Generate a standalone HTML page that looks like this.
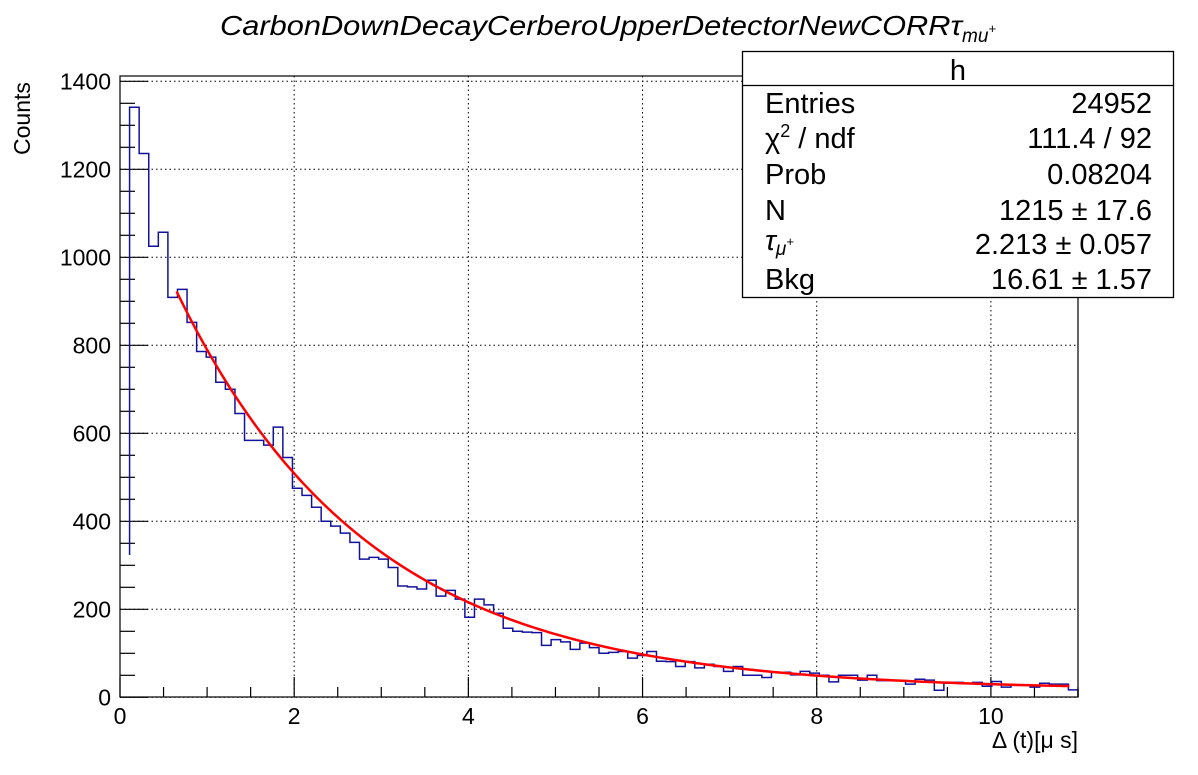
<!DOCTYPE html>
<html><head><meta charset="utf-8"><style>
body{margin:0;background:#fff;}
svg{display:block;font-family:"Liberation Sans",Arial,sans-serif;}
</style></head><body>
<svg id="c" width="1198" height="775" viewBox="0 0 1198 775">
<rect width="1198" height="775" fill="#fff"/>
<text x="220" y="35" font-size="28" font-style="italic"><tspan textLength="742" lengthAdjust="spacingAndGlyphs">CarbonDownDecayCerberoUpperDetectorNewCORRτ</tspan><tspan font-size="19" dy="7">mu</tspan><tspan font-size="13" dy="-9">+</tspan></text>
<g id="grid"></g>
<g id="axes"></g>
<g id="hist"></g>
<g id="fit"></g>
<rect x="120" y="76" width="958" height="621" fill="none" stroke="#000" stroke-width="1.2"/>
<text x="30" y="155" transform="rotate(-90 30 155)" font-size="23">Counts</text>
<text x="1078" y="748" text-anchor="end" font-size="23">Δ (t)[μ s]</text>
<g font-size="29">
<rect x="742.5" y="51.5" width="431" height="246" fill="#fff" stroke="#000" stroke-width="1.3"/>
<line x1="742" y1="85.5" x2="1174" y2="85.5" stroke="#000" stroke-width="1.3"/>
<text x="958" y="80" text-anchor="middle">h</text>
<text x="765" y="113">Entries</text><text x="1152" y="113" text-anchor="end">24952</text>
<text x="765" y="148">χ<tspan font-size="18" dy="-11">2</tspan><tspan dy="11"> / ndf</tspan></text><text x="1152" y="148" text-anchor="end">111.4 / 92</text>
<text x="765" y="184">Prob</text><text x="1152" y="184" text-anchor="end">0.08204</text>
<text x="765" y="220">N</text><text x="1152" y="220" text-anchor="end">1215 ± 17.6</text>
<text x="765" y="250" font-style="italic">τ<tspan font-size="19" dy="5">μ</tspan><tspan font-size="13" dy="-9">+</tspan></text><text x="1152" y="254" text-anchor="end">2.213 ± 0.057</text>
<text x="765" y="289">Bkg</text><text x="1152" y="289" text-anchor="end">16.61 ± 1.57</text>
</g>
</svg>
<script>
const counts=[0,1341,1236,1025,1057,909,927,852,786,773,716,700,645,584,584,573,614,545,475,459,432,400,389,373,352,314,318,314,295,253,251,246,266,230,243,223,182,223,210,191,157,150,148,147,118,131,126,109,123,113,100,102,104,89,95,104,82,81,70,81,67,75,70,59,70,50,50,45,57,57,51,59,55,50,35,50,50,39,50,38,38,38,30,41,39,16,32,34,32,34,25,36,23,27,27,23,32,30,30,17];
const xTicks=[0,2,4,6,8,10];
const yTicks=[0,200,400,600,800,1000,1200,1400];
const fitParams=[1215,2.213,16.61];
const fitRange=[0.65,10.9];
const binWidth=0.11;
const NS="http://www.w3.org/2000/svg";
const X0=120,X1=1078,Y0=697.3,XMAX=11,YMAXPX=0.44;
function sx(v){return X0+(X1-X0)*v/XMAX;}
function sy(v){return Y0-v*YMAXPX;}
function mk(tag,attrs,parent){const e=document.createElementNS(NS,tag);for(const k in attrs)e.setAttribute(k,attrs[k]);parent.appendChild(e);return e;}
const grid=document.getElementById('grid'),axes=document.getElementById('axes');
xTicks.forEach(t=>{
  const g=mk('line',{x1:sx(t),x2:sx(t),y1:76,y2:697,stroke:'#000','stroke-width':1,'stroke-dasharray':'1.5 3'},grid);
  
  
  const l=mk('text',{x:sx(t),y:724,'text-anchor':'middle','font-size':23},axes);
  l.textContent=t;
  
  
});
for(let v=0;v<=XMAX+1e-9;v+=0.5){
  const major=Math.abs(v/2-Math.round(v/2))<1e-6;
  const tk=mk('line',{x1:sx(v),x2:sx(v),y1:697,y2:major?677:687,stroke:'#000','stroke-width':1.2},axes);
  
  
}
yTicks.forEach(t=>{
  const g=mk('line',{x1:120,x2:1078,y1:sy(t),y2:sy(t),stroke:'#000','stroke-width':1,'stroke-dasharray':'1.5 3'},grid);
  
  
  const l=mk('text',{x:111,y:sy(t)+8,'text-anchor':'end','font-size':23},axes);
  l.textContent=t;
  
  
});
for(let v=0;v<=1400;v+=50){
  const major=v%200===0;
  const tk=mk('line',{x1:120,x2:major?148:135,y1:sy(v),y2:sy(v),stroke:'#000','stroke-width':1.2},axes);
  
  
}
let d='M'+sx(binWidth)+' 555';
counts.forEach((c,i)=>{if(i===0)return;d+=' L'+sx(i*binWidth)+' '+sy(c)+' L'+sx((i+1)*binWidth)+' '+sy(c);});
d+=' L'+sx(counts.length*binWidth)+' '+sy(0);
const h=mk('path',{d:d,fill:'none',stroke:'#12129c','stroke-width':1.5},document.getElementById('hist'));


let fd='';
for(let i=0;i<=300;i++){const t=fitRange[0]+(fitRange[1]-fitRange[0])*i/300;const y=fitParams[0]*Math.exp(-t/fitParams[1])+fitParams[2];fd+=(i?' L':'M')+sx(t).toFixed(2)+' '+sy(y).toFixed(2);}
const f=mk('path',{d:fd,fill:'none',stroke:'#ff0000','stroke-width':2.5},document.getElementById('fit'));


</script>
</body></html>
